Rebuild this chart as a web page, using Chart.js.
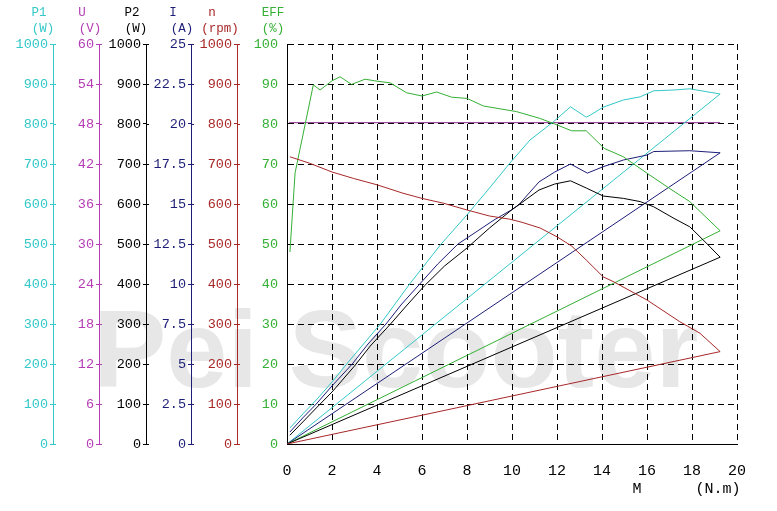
<!DOCTYPE html>
<html>
<head>
<meta charset="utf-8">
<title>Motor curves</title>
<script src="https://cdn.jsdelivr.net/npm/chart.js@4"></script>
<style>
    html, body { margin: 0; padding: 0; background: #fff; }
    #wrap { width: 777px; height: 511px; }
</style>
</head>
<body>
<div id="wrap"><canvas id="bl-chart" width="777" height="511"></canvas></div>
<script>
// torque in N.m, each curve closes back to the origin like the original plot
var p1Torque = [0.13, 0.7, 1.3, 2.0, 2.65, 4.15, 5.45, 6.85, 8.0, 9.0, 9.9, 10.8, 11.85, 12.6, 13.3, 13.5, 14.05, 14.95, 15.7, 16.3, 17.2, 17.9, 19.25, 0];
var p1Power = [40, 75, 110, 155, 200, 300, 400, 500, 573, 640, 702, 760, 806, 843, 817, 823, 842, 860, 868, 883, 885, 888, 875, 0];

var uTorque = [0.1, 19.25];
var uVolts = [48.2, 48.2];

var p2Torque = [0.13, 0.7, 1.3, 2.0, 3.0, 3.7, 4.6, 5.3, 6.1, 7.0, 8.0, 9.0, 10.0, 10.3, 11.2, 11.9, 12.6, 13.3, 14.05, 14.95, 15.7, 16.3, 17.2, 17.9, 18.5, 19.25, 0];
var p2Power = [22, 55, 90, 130, 195, 245, 300, 345, 395, 445, 490, 540, 586, 598, 635, 650, 658, 640, 620, 614, 606, 593, 564, 543, 510, 467, 0];

var iTorque = [0.13, 0.7, 1.3, 2.0, 2.9, 3.6, 4.4, 5.1, 5.9, 6.7, 7.6, 8.4, 9.2, 10.0, 10.3, 11.2, 11.9, 12.6, 13.35, 14.05, 14.95, 16.0, 16.3, 17.9, 19.25, 0];
var iAmps = [0.75, 1.63, 2.5, 3.63, 5.0, 6.25, 7.5, 8.75, 10.0, 11.25, 12.5, 13.25, 14.0, 14.65, 14.95, 16.38, 17.0, 17.5, 16.93, 17.33, 17.75, 18.06, 18.28, 18.33, 18.2, 0];

var nTorque = [0.13, 1.0, 2.0, 2.95, 4.0, 5.15, 6.0, 6.95, 8.0, 9.0, 9.9, 10.4, 11.25, 12.0, 12.65, 13.3, 14.05, 14.5, 16.0, 17.45, 18.35, 19.25, 0];
var nSpeed = [718, 702, 680, 664, 648, 627, 614, 602, 585, 570, 562, 555, 540, 518, 495, 460, 418, 406, 360, 306, 277, 231, 0];

var effTorque = [0.13, 0.28, 0.36, 1.17, 1.47, 2.0, 2.36, 2.87, 3.47, 4.0, 4.58, 5.32, 6.0, 6.65, 7.32, 8.0, 8.73, 10.2, 11.24, 11.9, 12.65, 13.3, 14.1, 14.95, 16.0, 17.0, 17.9, 19.25, 0];
var effPct = [48, 61, 67.8, 89.8, 88.5, 90.8, 91.8, 89.9, 91.2, 90.7, 90.3, 87.8, 87, 88, 86.7, 86.4, 84.5, 83.1, 81.4, 80, 78.3, 78.3, 73.9, 71.8, 67.7, 63.9, 60.6, 53.3, 0];

var FONT = "'Liberation Mono', 'DejaVu Sans Mono', monospace";

var C_P1 = '#35c8c8';
var C_U = '#b43cb4';
var C_U_LINE = '#8e2c8e';
var C_P2 = '#000000';
var C_I = '#1e1e78';
var C_N = '#a82828';
var C_EFF = '#34b034';

document.addEventListener('DOMContentLoaded', function () {
    initChart();
});

function points(xs, ys) {
    return xs.map(function (x, i) { return { x: x, y: ys[i] }; });
}

function fixWidth(w) {
    return function (scale) { scale.width = w; };
}

function sideAxis(color, max, step, weight, width) {
    return {
        type: 'linear',
        position: 'left',
        min: 0,
        max: max,
        weight: weight,
        afterFit: fixWidth(width),
        border: { color: color, width: 1 },
        grid: { drawOnChartArea: false, drawTicks: true, tickLength: 3, color: color },
        ticks: {
            stepSize: step,
            autoSkip: false,
            color: color,
            padding: 2,
            font: { family: FONT, size: 13.5 },
            callback: function (v) { return String(v); }
        }
    };
}

var axisTitles = {
    id: 'axisTitles',
    beforeDraw: function (chart) {
        var ctx = chart.ctx;
        ctx.save();
        ctx.fillStyle = '#fff';
        ctx.fillRect(0, 0, chart.width, chart.height);
        // faint watermark behind everything
        ctx.fillStyle = '#e7e7e7';
        ctx.font = "bold 110px 'Liberation Sans', Arial, sans-serif";
        ctx.textBaseline = 'alphabetic';
        ctx.textAlign = 'left';
        ctx.fillText('Pei Scooter', 93, 387);
        ctx.restore();
    },
    afterDraw: function (chart) {
        var ctx = chart.ctx;
        var s = chart.scales;
        var titles = [
            ['p1', 'P1', -14, '(W)', -10, C_P1],
            ['u', 'U', -17, '(V)', -9, C_U],
            ['p2', 'P2', -14, '(W)', -10, C_P2],
            ['i', 'I', -18, '(A)', -9, C_I],
            ['n', 'n', -25, '(rpm)', -17, C_N],
            ['eff', 'EFF', -14, '(%)', -14, C_EFF]
        ];
        ctx.save();
        ctx.font = '12.5px ' + FONT;
        ctx.textAlign = 'center';
        ctx.textBaseline = 'middle';
        titles.forEach(function (t) {
            var ax = s[t[0]].right;
            ctx.fillStyle = t[5];
            ctx.fillText(t[1], ax + t[2], 13);
            ctx.fillText(t[3], ax + t[4], 29);
        });

        // ticks cross the side axes
        ['p1', 'u', 'p2', 'i', 'n'].forEach(function (id, k) {
            var sc = s[id];
            ctx.strokeStyle = titles[k][5];
            ctx.lineWidth = 1;
            sc.ticks.forEach(function (tk) {
                var y = Math.round(sc.getPixelForValue(tk.value)) + 0.5;
                ctx.beginPath();
                ctx.moveTo(sc.right, y);
                ctx.lineTo(sc.right + 3, y);
                ctx.stroke();
            });
        });

        var area = chart.chartArea;
        ctx.fillStyle = '#000';
        ctx.font = '15px ' + FONT;
        ctx.fillText('M', area.right - 100, 489);
        ctx.fillText('(N.m)', area.right - 19, 489);
        ctx.restore();
    }
};

function initChart() {
    var el = document.getElementById('bl-chart');
    if (!el || typeof Chart === 'undefined') return;

    function line(label, xs, ys, color, axis) {
        return {
            label: label,
            data: points(xs, ys),
            yAxisID: axis,
            showLine: true,
            borderColor: color,
            backgroundColor: color,
            borderWidth: 1,
            pointRadius: 0,
            tension: 0,
            fill: false
        };
    }

    new Chart(el.getContext('2d'), {
        type: 'scatter',
        data: {
            datasets: [
                line('n', nTorque, nSpeed, C_N, 'n'),
                line('P2', p2Torque, p2Power, C_P2, 'p2'),
                line('EFF', effTorque, effPct, C_EFF, 'eff'),
                line('I', iTorque, iAmps, C_I, 'i'),
                line('P1', p1Torque, p1Power, C_P1, 'p1'),
                line('U', uTorque, uVolts, C_U_LINE, 'u')
            ]
        },
        options: {
            responsive: false,
            animation: false,
            layout: { padding: { top: 44, right: 40, left: 0, bottom: 0 } },
            plugins: { legend: { display: false }, tooltip: { enabled: false } },
            scales: {
                x: {
                    type: 'linear',
                    position: 'bottom',
                    min: 0,
                    max: 20,
                    afterFit: function (scale) { scale.height = 67; },
                    border: { color: '#000', width: 1, dash: [6, 4] },
                    grid: { color: '#000', lineWidth: 1, drawTicks: false },
                    ticks: {
                        stepSize: 2,
                        color: '#000',
                        padding: 18,
                        font: { family: FONT, size: 15 }
                    }
                },
                p1: sideAxis(C_P1, 1000, 100, 6, 53),
                u: sideAxis(C_U, 60, 6, 5, 46),
                p2: sideAxis(C_P2, 1000, 100, 4, 47),
                i: sideAxis(C_I, 25, 2.5, 3, 45),
                n: sideAxis(C_N, 1000, 100, 2, 46),
                eff: {
                    type: 'linear',
                    position: 'left',
                    min: 0,
                    max: 100,
                    weight: 1,
                    afterFit: fixWidth(50),
                    border: { color: '#000', width: 1, dash: [6, 4] },
                    grid: { color: '#000', lineWidth: 1, drawTicks: false },
                    ticks: {
                        stepSize: 10,
                        autoSkip: false,
                        color: C_EFF,
                        padding: 9,
                        font: { family: FONT, size: 13.5 },
                        callback: function (v) { return String(v); }
                    }
                }
            }
        },
        plugins: [axisTitles]
    });
}
</script>
</body>
</html>
